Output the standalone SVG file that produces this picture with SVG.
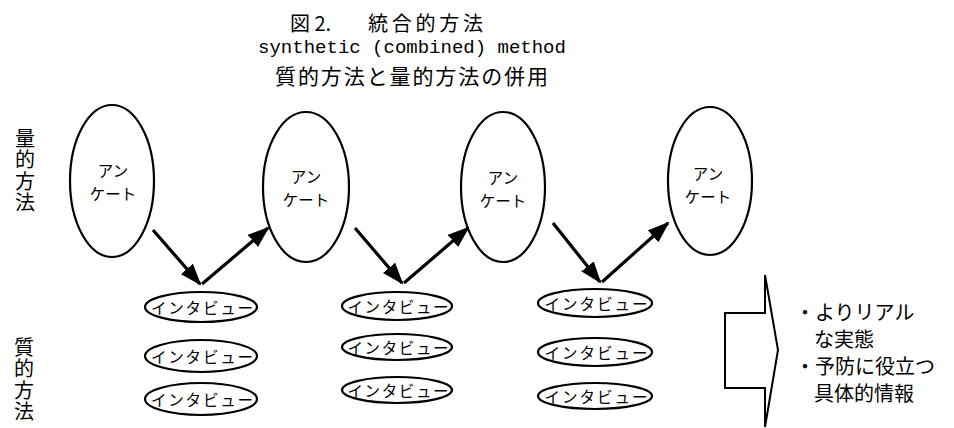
<svg xmlns="http://www.w3.org/2000/svg" width="954" height="428" viewBox="0 0 954 428">
<style>
  .jp { font-family: "Noto Sans CJK JP", "Noto Sans", sans-serif; fill: #000; }
  .node { fill: #fff; stroke: #000; stroke-width: 2.2; }
  .conn { stroke: #000; stroke-width: 3.2; fill: none; }
  .lbl { font-size: 15.5px; text-anchor: middle; dominant-baseline: central; }
  .iv { font-size: 15.5px; text-anchor: middle; dominant-baseline: central; }
  .vert { font-size: 20px; writing-mode: vertical-rl; letter-spacing: 1.5px; }
</style>
<defs>
  <marker id="ah" markerUnits="userSpaceOnUse" markerWidth="22" markerHeight="16" refX="20" refY="8" orient="auto">
    <path d="M0,0 L22,8 L0,16 z" fill="#000"/>
  </marker>
</defs>
<rect width="954" height="428" fill="#fff"/>

<g id="title">
  <text class="jp" x="290" y="22" font-size="20" dominant-baseline="central" xml:space="preserve">図 2.</text>
  <text class="jp" x="368" y="22" font-size="20" dominant-baseline="central" textLength="115">統合的方法</text>
  <text x="412" y="48" font-family="Liberation Mono, monospace" font-size="19" text-anchor="middle" dominant-baseline="central">synthetic (combined) method</text>
  <text class="jp" x="275" y="75" font-size="21" dominant-baseline="central" textLength="273">質的方法と量的方法の併用</text>
</g>

<g id="label-quant">
  <text class="jp vert" x="25" y="128">量的方法</text>
</g>
<g id="label-qual">
  <text class="jp vert" x="24" y="337">質的方法</text>
</g>

<g id="survey1">
  <ellipse class="node" cx="112" cy="181" rx="42" ry="76"/>
  <text class="jp lbl"><tspan x="113" y="170">アン</tspan><tspan x="113" y="193">ケート</tspan></text>
</g>
<g id="survey2">
  <ellipse class="node" cx="306" cy="187" rx="43" ry="75"/>
  <text class="jp lbl"><tspan x="306" y="176">アン</tspan><tspan x="306" y="199">ケート</tspan></text>
</g>
<g id="survey3">
  <ellipse class="node" cx="503" cy="187" rx="42" ry="75"/>
  <text class="jp lbl"><tspan x="503" y="177">アン</tspan><tspan x="503" y="200">ケート</tspan></text>
</g>
<g id="survey4">
  <ellipse class="node" cx="710" cy="181" rx="42" ry="74"/>
  <text class="jp lbl"><tspan x="708" y="173">アン</tspan><tspan x="708" y="196">ケート</tspan></text>
</g>

<g id="interview1a"><ellipse class="node" cx="201" cy="307" rx="56" ry="15"/><text class="jp iv" x="202" y="307" textLength="102">インタビュー</text></g>
<g id="interview1b"><ellipse class="node" cx="201" cy="356" rx="56" ry="16"/><text class="jp iv" x="202" y="356" textLength="102">インタビュー</text></g>
<g id="interview1c"><ellipse class="node" cx="201" cy="399" rx="56" ry="16"/><text class="jp iv" x="202" y="399" textLength="102">インタビュー</text></g>

<g id="interview2a"><ellipse class="node" cx="397" cy="306" rx="55" ry="14"/><text class="jp iv" x="398" y="306" textLength="101">インタビュー</text></g>
<g id="interview2b"><ellipse class="node" cx="397" cy="347" rx="55" ry="13"/><text class="jp iv" x="398" y="347" textLength="101">インタビュー</text></g>
<g id="interview2c"><ellipse class="node" cx="397" cy="390" rx="55" ry="13"/><text class="jp iv" x="398" y="390" textLength="101">インタビュー</text></g>

<g id="interview3a"><ellipse class="node" cx="595" cy="303" rx="57" ry="14"/><text class="jp iv" x="596" y="303" textLength="103">インタビュー</text></g>
<g id="interview3b"><ellipse class="node" cx="595" cy="352" rx="57" ry="14"/><text class="jp iv" x="596" y="352" textLength="103">インタビュー</text></g>
<g id="interview3c"><ellipse class="node" cx="595" cy="396" rx="57" ry="13"/><text class="jp iv" x="596" y="396" textLength="103">インタビュー</text></g>

<g id="connectors">
  <line class="conn" x1="153" y1="230" x2="200" y2="284" marker-end="url(#ah)"/>
  <line class="conn" x1="202" y1="284" x2="268" y2="228" marker-end="url(#ah)"/>
  <line class="conn" x1="355" y1="228" x2="402" y2="283" marker-end="url(#ah)"/>
  <line class="conn" x1="404" y1="283" x2="468" y2="228" marker-end="url(#ah)"/>
  <line class="conn" x1="553" y1="223" x2="600" y2="282" marker-end="url(#ah)"/>
  <line class="conn" x1="602" y1="282" x2="668" y2="223" marker-end="url(#ah)"/>
</g>

<g id="result-arrow">
  <path d="M725,313 L765,313 L765,275 L778,350 L765,427 L765,388 L725,388 Z" fill="#fff" stroke="#000" stroke-width="2"/>
</g>

<g id="result-text">
  <text class="jp" font-size="20" dominant-baseline="central">
    <tspan x="795" y="311">・よりリアル</tspan>
    <tspan x="814" y="338">な実態</tspan>
    <tspan x="795" y="365">・予防に役立つ</tspan>
    <tspan x="814" y="392">具体的情報</tspan>
  </text>
</g>
</svg>
